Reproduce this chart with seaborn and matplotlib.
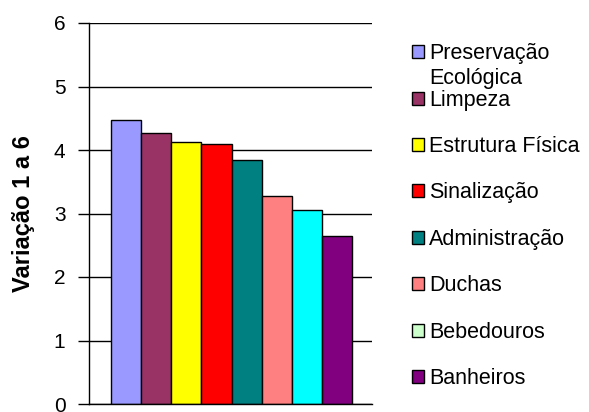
import matplotlib as mpl
mpl.use('Agg')
import matplotlib.pyplot as plt
from matplotlib.patches import Patch
import seaborn as sns

# %% dados

categorias = ['Preservação Ecológica', 'Limpeza', 'Estrutura Física', 'Sinalização',
              'Administração', 'Duchas', 'Bebedouros', 'Banheiros']
valores = [4.48, 4.27, 4.13, 4.10, 3.85, 3.28, 3.06, 2.65]
cores = ['#9999FF', '#993366', '#FFFF00', '#FF0000', '#008080', '#FF8080', '#00FFFF', '#800080']
# na legenda original Bebedouros aparece verde-claro
cores_legenda = ['#9999FF', '#993366', '#FFFF00', '#FF0000', '#008080', '#FF8080', '#CCFFCC', '#800080']
rotulos_legenda = ['Preservação', 'Limpeza', 'Estrutura Física', 'Sinalização',
                   'Administração', 'Duchas', 'Bebedouros', 'Banheiros']
y_ticks = [0, 1, 2, 3, 4, 5, 6]

# %% grafico

sns.set_style('white')
plt.rcParams['font.family'] = ['Liberation Sans', 'DejaVu Sans']
plt.rcParams['text.color'] = 'black'
plt.rcParams['axes.labelcolor'] = 'black'
plt.rcParams['ytick.color'] = 'black'

fig = plt.figure(figsize=(5.89, 4.12), dpi=100)
ax = fig.add_axes([89/589, 8/412, 283/589, 381/412])

sns.barplot(x=categorias, y=valores, hue=categorias, palette=cores, width=1.0, saturation=1,
            edgecolor='black', linewidth=1, legend=False, ax=ax)

ax.set_xlim(-1.23, 8.16)
ax.set_ylim(0, 6)
ax.set_yticks(y_ticks)
ax.set_xticks([])
ax.set_xlabel('')
ax.grid(axis='y', color='black', linewidth=1)
ax.set_axisbelow(True)
sns.despine(ax=ax, top=True, right=True)
ax.spines['left'].set_color('black')
ax.spines['bottom'].set_color('black')
ax.spines['left'].set_linewidth(1)
ax.spines['bottom'].set_linewidth(1)
ax.tick_params(axis='y', left=True, length=8, width=1, color='black', labelcolor='black',
               pad=9, labelsize=15)

ax.set_ylabel('Variação 1 a 6', fontsize=17, fontweight='bold', color='black')
ax.yaxis.set_label_coords(-0.19, 0.5)

handles = [Patch(facecolor=c, edgecolor='black', linewidth=1) for c in cores_legenda]
leg = fig.legend(handles, rotulos_legenda, loc='upper left', bbox_to_anchor=(412/589, 0.895),
                 frameon=False, fontsize=15.5, borderpad=0, borderaxespad=0,
                 handlelength=0.55, handleheight=0.55, handletextpad=0.25, labelspacing=1.18)

# segunda linha do primeiro rotulo
fig.canvas.draw()
bb = leg.get_texts()[0].get_window_extent()
fig.text(bb.x0 / 589, (bb.y0 - 25) / 412, 'Ecológica', fontsize=15.5,
         va='bottom', ha='left', color='black')

plt.savefig('out.png', dpi=100)
